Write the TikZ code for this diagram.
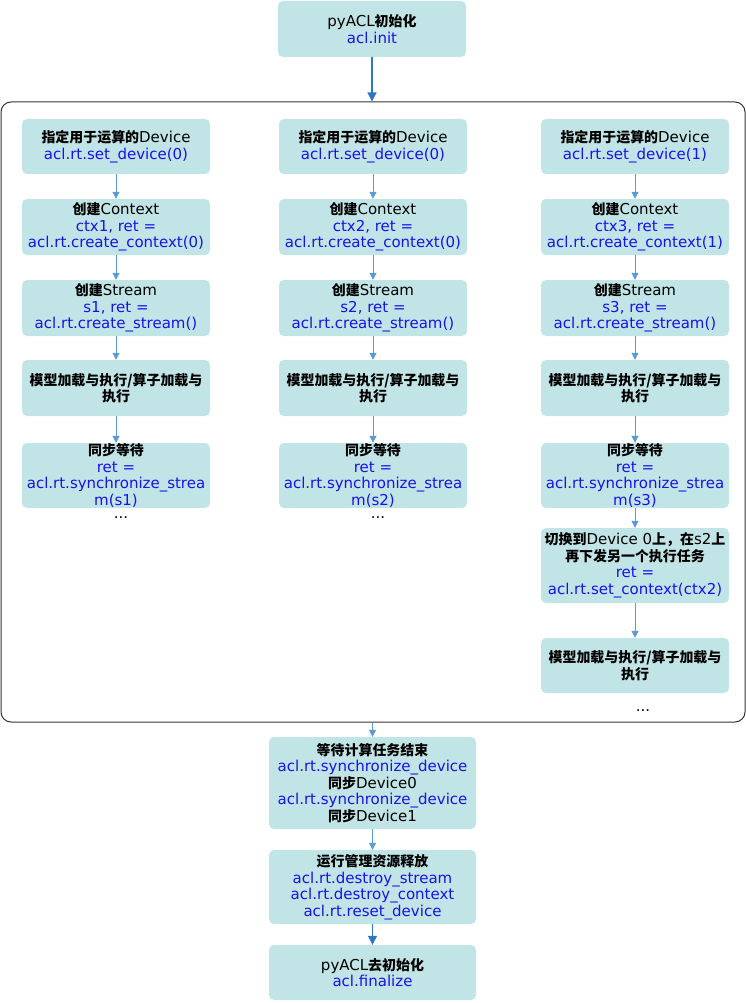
\documentclass[tikz,border=0pt]{standalone}
\usepackage{fontspec}
\setmainfont{DejaVu Sans}
\newfontfamily\cjk[Scale=0.93]{Noto Sans CJK SC}
\usetikzlibrary{arrows.meta}
\definecolor{boxfill}{RGB}{193,228,230}
\definecolor{codeblue}{RGB}{20,20,235}
\definecolor{arrlight}{RGB}{91,155,213}
\definecolor{arrdark}{RGB}{47,117,200}
\definecolor{framegray}{RGB}{51,51,51}
\newcommand\zh[1]{{\cjk\bfseries #1}}
\newcommand\bl[1]{\textcolor{codeblue}{#1}}
\begin{document}
\begin{tikzpicture}[x=1pt,y=-1pt,
 stepbox/.style={fill=boxfill, rounded corners=5pt, minimum width=188pt, inner sep=0pt, align=center, font=\fontsize{15}{16.5}\selectfont, text=black},
 dots/.style={font=\fontsize{15}{16.5}\selectfont, inner sep=0pt},
 frm/.style={draw=framegray, line width=1pt, rounded corners=10pt, minimum width=744pt, minimum height=620pt, inner sep=0pt},
 lnk/.style={draw=arrlight, line width=1pt, -{Triangle[length=7pt,width=7pt]}},
 lnkdark/.style={draw=arrdark, line width=1.2pt, -{Triangle[length=9pt,width=9pt]}},
]
\useasboundingbox (0,0) rectangle (746,1003);

\node[frm] (frame) at (373,412) {};

\node[stepbox, minimum height=56pt] (top) at (372,29) {pyACL\zh{初始化}\\ \bl{acl.init}};

% column 1
\node[stepbox, minimum height=55pt] (a1) at (116,146.5) {\zh{指定用于运算的}Device\\ \bl{acl.rt.set\_device(0)}};
\node[stepbox, minimum height=56pt] (a2) at (116,227) {\zh{创建}Context\\ \bl{ctx1, ret =}\\ \bl{acl.rt.create\_context(0)}};
\node[stepbox, minimum height=56pt] (a3) at (116,308) {\zh{创建}Stream\\ \bl{s1, ret =}\\ \bl{acl.rt.create\_stream()}};
\node[stepbox, minimum height=56pt] (a4) at (116,388) {\zh{模型加载与执行/算子加载与}\\ \zh{执行}};
\node[stepbox, minimum height=65pt] (a5) at (116,475.5) {\zh{同步等待}\\ \bl{ret =}\\ \bl{acl.rt.synchronize\_strea}\\ \bl{m(s1)}};
\node[dots] (ad) at (121,518) {...};

% column 2
\node[stepbox, minimum height=55pt] (b1) at (373,146.5) {\zh{指定用于运算的}Device\\ \bl{acl.rt.set\_device(0)}};
\node[stepbox, minimum height=56pt] (b2) at (373,227) {\zh{创建}Context\\ \bl{ctx2, ret =}\\ \bl{acl.rt.create\_context(0)}};
\node[stepbox, minimum height=56pt] (b3) at (373,308) {\zh{创建}Stream\\ \bl{s2, ret =}\\ \bl{acl.rt.create\_stream()}};
\node[stepbox, minimum height=56pt] (b4) at (373,388) {\zh{模型加载与执行/算子加载与}\\ \zh{执行}};
\node[stepbox, minimum height=65pt] (b5) at (373,475.5) {\zh{同步等待}\\ \bl{ret =}\\ \bl{acl.rt.synchronize\_strea}\\ \bl{m(s2)}};
\node[dots] (bd) at (378,518) {...};

% column 3
\node[stepbox, minimum height=55pt] (c1) at (635,146.5) {\zh{指定用于运算的}Device\\ \bl{acl.rt.set\_device(1)}};
\node[stepbox, minimum height=56pt] (c2) at (635,227) {\zh{创建}Context\\ \bl{ctx3, ret =}\\ \bl{acl.rt.create\_context(1)}};
\node[stepbox, minimum height=56pt] (c3) at (635,308) {\zh{创建}Stream\\ \bl{s3, ret =}\\ \bl{acl.rt.create\_stream()}};
\node[stepbox, minimum height=56pt] (c4) at (635,388) {\zh{模型加载与执行/算子加载与}\\ \zh{执行}};
\node[stepbox, minimum height=65pt] (c5) at (635,475.5) {\zh{同步等待}\\ \bl{ret =}\\ \bl{acl.rt.synchronize\_strea}\\ \bl{m(s3)}};
\node[stepbox, minimum height=75pt] (c6) at (635,565.5) {\zh{切换到}Device 0\zh{上，在}s2\zh{上}\\ \zh{再下发另一个执行任务}\\ \bl{ret =}\\ \bl{acl.rt.set\_context(ctx2)}};
\node[stepbox, minimum height=55pt] (c7) at (635,665.5) {\zh{模型加载与执行/算子加载与}\\ \zh{执行}};
\node[dots] (cd) at (643,711) {...};

% bottom
\node[stepbox, minimum width=207pt, minimum height=92pt] (d1) at (372.5,783) {\zh{等待计算任务结束}\\ \bl{acl.rt.synchronize\_device}\\ \zh{同步}Device0\\ \bl{acl.rt.synchronize\_device}\\ \zh{同步}Device1};
\node[stepbox, minimum width=207pt, minimum height=74pt] (d2) at (372.5,887) {\zh{运行管理资源释放}\\ \bl{acl.rt.destroy\_stream}\\ \bl{acl.rt.destroy\_context}\\ \bl{acl.rt.reset\_device}};
\node[stepbox, minimum width=207pt, minimum height=55pt] (d3) at (372.5,972.5) {pyACL\zh{去初始化}\\ \bl{acl.finalize}};

% connectors
\draw[lnkdark] (top) -- (top.south |- frame.north);
\draw[lnk] (a1) -- (a2);
\draw[lnk] (a2) -- (a3);
\draw[lnk] (a3) -- (a4);
\draw[lnk] (a4) -- (a5);
\draw[lnk] (b1) -- (b2);
\draw[lnk] (b2) -- (b3);
\draw[lnk] (b3) -- (b4);
\draw[lnk] (b4) -- (b5);
\draw[lnk] (c1) -- (c2);
\draw[lnk] (c2) -- (c3);
\draw[lnk] (c3) -- (c4);
\draw[lnk] (c4) -- (c5);
\draw[lnk] (c5) -- (c6);
\draw[lnk] (c6) -- (c7);
\draw[lnk] (frame.south -| d1.north) -- (d1);
\draw[lnk] (d1) -- (d2);
\draw[lnkdark] (d2) -- (d3);
\end{tikzpicture}
\end{document}
